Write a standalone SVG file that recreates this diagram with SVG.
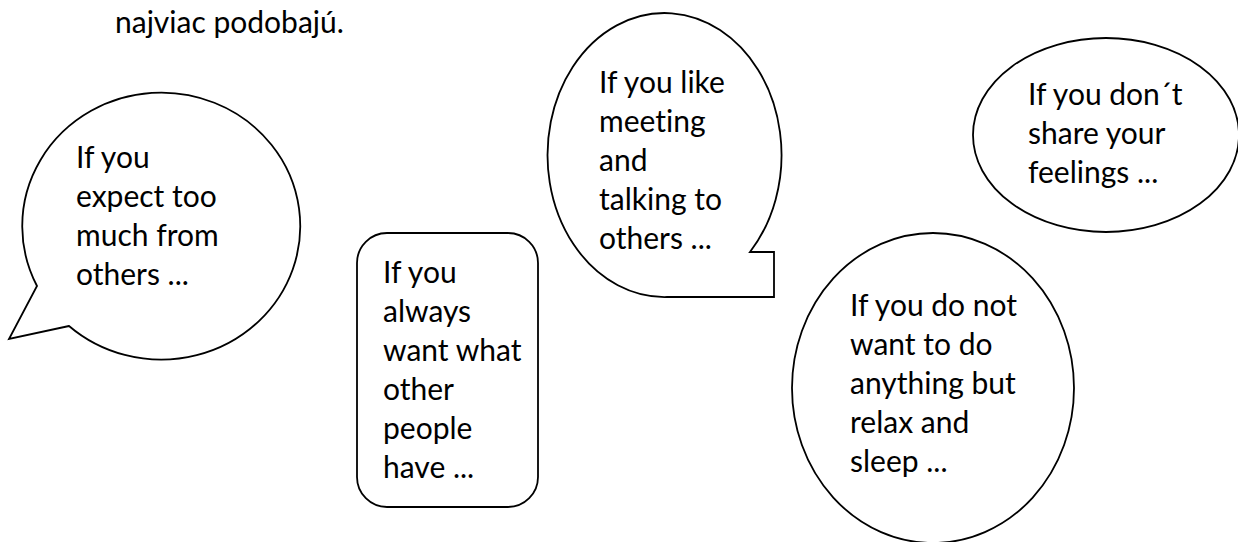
<svg xmlns="http://www.w3.org/2000/svg" width="1238" height="542" viewBox="0 0 1238 542">
<style>
.b{fill:#fff;stroke:#000;stroke-width:1.8;stroke-linejoin:miter}
text{font-family:Lato,"Liberation Sans",sans-serif;font-size:30px;fill:#000;font-variant-ligatures:none}
</style>
<rect width="1238" height="542" fill="#fff"/>
<text x="115" y="33">najviac podobajú.</text>
<g id="bubble-expect">
<path class="b" d="M69,326 L9,339 L37,286 A139,133.5 0 1 1 69,326 Z"/>
<text x="76" y="168">If you</text>
<text x="76" y="207">expect too</text>
<text x="76" y="246">much from</text>
<text x="76" y="285">others ...</text>
</g>
<g id="bubble-always">
<rect class="b" x="357" y="233" width="181" height="274" rx="30" ry="30"/>
<text x="383" y="283">If you</text>
<text x="383" y="322">always</text>
<text x="383" y="361">want what</text>
<text x="383" y="400">other</text>
<text x="383" y="439">people</text>
<text x="383" y="478">have ...</text>
</g>
<g id="bubble-meeting">
<path class="b" d="M750,252 L774,252 L774,297 L667,297 A117,142 0 1 1 750,252 Z"/>
<text x="599" y="93">If you like</text>
<text x="599" y="132">meeting</text>
<text x="599" y="171">and</text>
<text x="599" y="210">talking to</text>
<text x="599" y="249">others ...</text>
</g>
<g id="bubble-feelings">
<ellipse class="b" cx="1106" cy="135" rx="133" ry="97"/>
<text x="1028" y="105">If you don´t</text>
<text x="1028" y="144">share your</text>
<text x="1028" y="183">feelings ...</text>
</g>
<g id="bubble-relax">
<ellipse class="b" cx="933" cy="388" rx="141" ry="155"/>
<text x="850" y="316">If you do not</text>
<text x="850" y="355">want to do</text>
<text x="850" y="394">anything but</text>
<text x="850" y="433">relax and</text>
<text x="850" y="472">sleep ...</text>
</g>
<g id="connectors"></g>
</svg>
